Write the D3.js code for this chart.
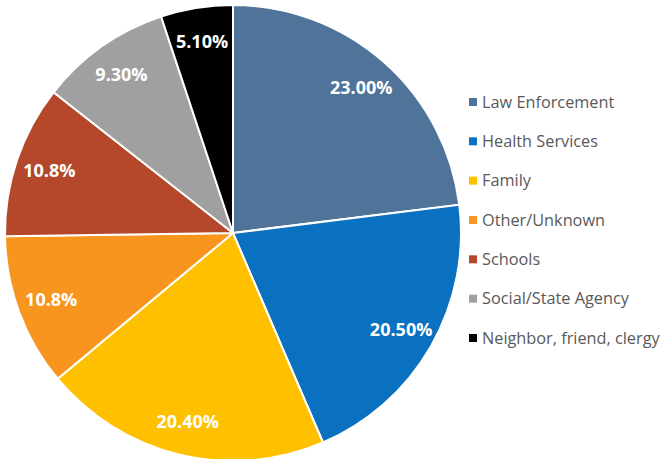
<!DOCTYPE html>
<html>
<head>
<meta charset="utf-8">
<script src="https://cdn.jsdelivr.net/npm/d3@7"></script>
<style>
  body { margin: 0; background: #fff; }
  svg { display: block; }
</style>
</head>
<body>
<div id="chart"></div>
<script>

var categories = ['Law Enforcement', 'Health Services', 'Family', 'Other/Unknown', 'Schools', 'Social/State Agency', 'Neighbor, friend, clergy'];
var values = [23.0, 20.5, 20.4, 10.8, 10.8, 9.3, 5.1];
var valueLabels = ['23.00%', '20.50%', '20.40%', '10.8%', '10.8%', '9.30%', '5.10%'];
var colors = ['#50739a', '#0a70c0', '#ffc000', '#f7951f', '#b5472a', '#a0a0a0', '#000000'];

var width = 668, height = 459;
var cx = 233, cy = 233, radius = 228;

var svg = d3.select('#chart').append('svg')
  .attr('width', width)
  .attr('height', height);

var data = categories.map(function(c, i) {
  return { name: c, value: values[i], label: valueLabels[i], color: colors[i] };
});

var pie = d3.pie()
  .sort(null)
  .value(function(d) { return d.value; });

var arc = d3.arc().innerRadius(0).outerRadius(radius);
var labelArc = d3.arc().innerRadius(radius * 0.85).outerRadius(radius * 0.85);

var g = svg.append('g').attr('transform', 'translate(' + cx + ',' + cy + ')');

var slices = g.selectAll('.slice')
  .data(pie(data))
  .enter().append('g')
  .attr('class', 'slice');

slices.append('path')
  .attr('d', arc)
  .attr('fill', function(d) { return d.data.color; })
  .attr('stroke', '#fff')
  .attr('stroke-width', 2);

slices.append('text')
  .attr('transform', function(d) { return 'translate(' + labelArc.centroid(d) + ')'; })
  .attr('text-anchor', 'middle')
  .attr('dy', '0.35em')
  .attr('fill', '#fff')
  .attr('font-family', '"Open Sans", sans-serif')
  .attr('font-weight', 'bold')
  .attr('font-size', 18)
  .text(function(d) { return d.data.label; });

// legend
var legendY = d3.scalePoint()
  .domain(categories)
  .range([102, 338]);

var legend = svg.append('g')
  .selectAll('.legend-item')
  .data(data)
  .enter().append('g')
  .attr('class', 'legend-item')
  .attr('transform', function(d) { return 'translate(469,' + legendY(d.name) + ')'; });

legend.append('rect')
  .attr('x', 0)
  .attr('y', -4)
  .attr('width', 8)
  .attr('height', 8)
  .attr('fill', function(d) { return d.color; });

legend.append('text')
  .attr('x', 13)
  .attr('dy', '0.35em')
  .attr('fill', '#595959')
  .attr('font-family', '"Open Sans", sans-serif')
  .attr('font-size', 16.3)
  .text(function(d) { return d.name; });

</script>
</body>
</html>
